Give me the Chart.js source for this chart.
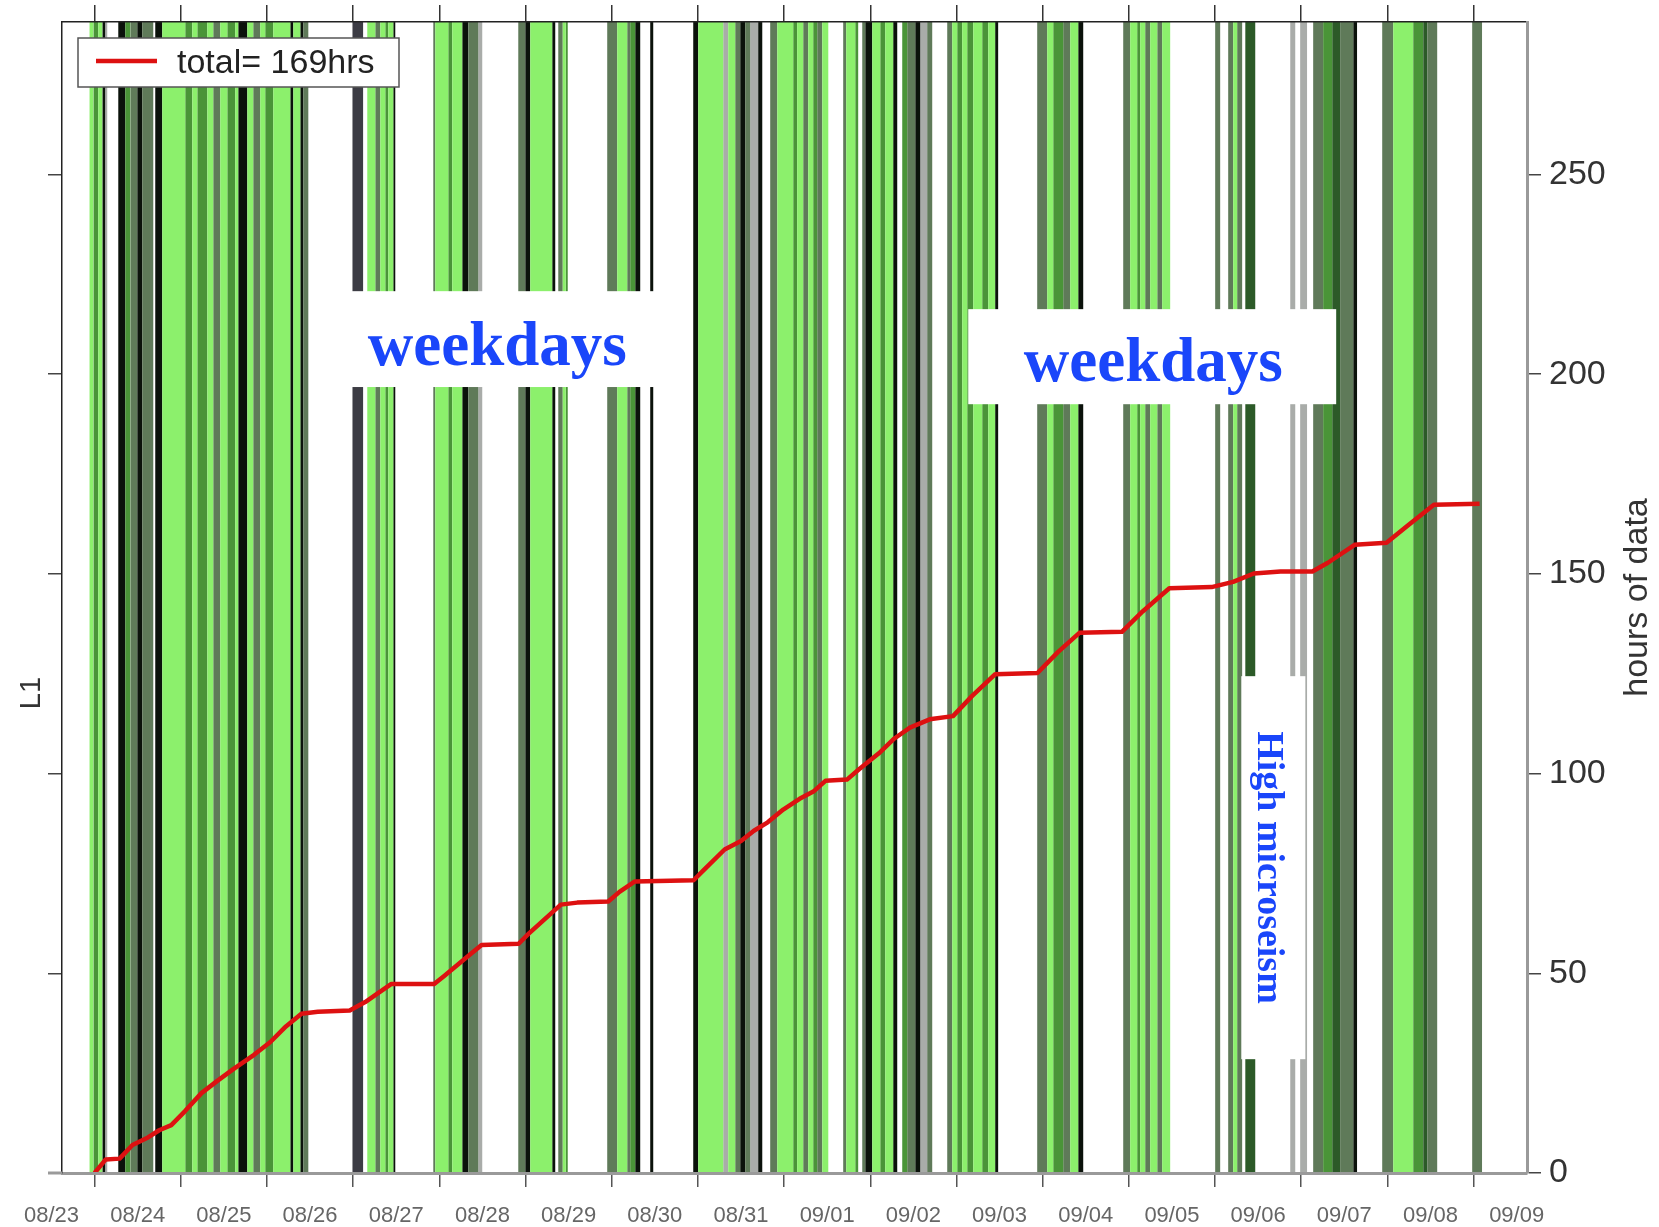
<!DOCTYPE html>
<html>
<head>
<meta charset="utf-8">
<script src="https://cdn.jsdelivr.net/npm/chart.js@4.4.1/dist/chart.umd.min.js"></script>
<style>
  html, body { margin: 0; padding: 0; background: #fff; }
  canvas { display: block; }
</style>
</head>
<body>
<canvas id="chart" width="1659" height="1227"></canvas>
<script>
// Tick labels (one per day, centred on the day)
const dateLabels = ['08/23', '08/24', '08/25', '08/26', '08/27', '08/28', '08/29', '08/30', '08/31',
                    '09/01', '09/02', '09/03', '09/04', '09/05', '09/06', '09/07', '09/08', '09/09'];
const dayTicks = [0, 1, 2, 3, 4, 5, 6, 7, 8, 9, 10, 11, 12, 13, 14, 15, 16];
const hourTicks = [0, 50, 100, 150, 200, 250];

// Cumulative hours of data (x in days since first tick)
const totalDays = [0, 0.13, 0.29, 0.44, 0.62, 0.75, 0.89, 1.05, 1.24, 1.42, 1.61, 1.85, 2.04, 2.22, 2.40, 2.59, 2.96,
                   3.14, 3.26, 3.44, 3.94, 4.06, 4.31, 4.49, 4.92, 5.04, 5.23, 5.41, 5.60, 5.96, 6.09, 6.27, 6.95,
                   7.07, 7.31, 7.50, 7.65, 7.81, 7.99, 8.18, 8.34, 8.48, 8.73, 8.87, 9.10, 9.28, 9.46, 9.69, 9.96,
                   10.18, 10.45, 10.94, 11.18, 11.43, 11.92, 12.16, 12.47, 12.96, 13.21, 13.45, 13.76, 14.13,
                   14.31, 14.62, 14.99, 15.23, 15.54, 16.07];
const totalHours = [0, 3.4, 3.6, 7, 8.9, 10.7, 12, 15.5, 20, 23, 26, 29.6, 32.8, 36.7, 39.9, 40.4, 40.7,
                    42.8, 44.6, 47.3, 47.3, 49.4, 53.9, 57.1, 57.4, 60, 63.7, 67.2, 67.7, 68, 70.4, 73, 73.3,
                    75.9, 81, 83.1, 85.7, 87.8, 91, 93.7, 95.5, 98.2, 98.5, 101.1, 105.1, 108.8, 111.5, 113.6, 114.4,
                    119.4, 124.9, 125.2, 130.5, 135.3, 135.5, 140.6, 146.4, 146.7, 148, 150.1, 150.6, 150.6,
                    152.8, 157.3, 157.8, 162, 167.3, 167.6];

// Data segments, [start, end] in days, one list per shade
const lightGreenSpans = [[-0.061, -0.015], [0.043, 0.089], [0.785, 1.052], [1.134, 1.192], [1.308, 1.377],
  [1.458, 1.540], [1.632, 1.667], [1.772, 1.841], [1.922, 1.980], [2.073, 2.271], [2.306, 2.387],
  [3.164, 3.257], [3.315, 3.373], [3.408, 3.466], [3.953, 4.104], [4.150, 4.266], [5.055, 5.310],
  [5.432, 5.467], [6.064, 6.180], [7.004, 7.294], [7.352, 7.433], [7.921, 8.106], [8.152, 8.222],
  [8.280, 8.338], [8.443, 8.513], [8.721, 8.826], [9.023, 9.116], [9.174, 9.266], [9.951, 10.009],
  [10.067, 10.125], [10.195, 10.299], [10.369, 10.449], [11.053, 11.123], [11.320, 11.413],
  [12.016, 12.097], [12.132, 12.190], [12.248, 12.330], [12.387, 12.480], [13.211, 13.257], [15.068, 15.300]];
const greenSpans = [[-0.015, 0.043], [0.356, 0.414], [1.052, 1.134], [1.192, 1.308], [1.540, 1.632],
  [1.980, 2.073], [3.373, 3.408], [4.104, 4.150], [5.467, 5.490], [6.215, 6.273], [8.106, 8.152],
  [8.338, 8.385], [8.826, 8.860], [9.116, 9.174], [9.371, 9.429], [10.009, 10.067], [10.125, 10.195],
  [10.299, 10.369], [11.123, 11.239], [12.097, 12.132], [14.255, 14.360], [15.300, 15.416]];
const darkGreenSpans = [[13.350, 13.467], [14.360, 14.453], [15.416, 15.462]];
const grayGreenSpans = [[0.414, 0.495], [0.553, 0.681], [1.377, 1.458], [1.841, 1.922], [2.422, 2.480],
  [3.257, 3.315], [3.930, 3.953], [4.336, 4.452], [4.916, 4.997], [5.380, 5.432], [5.948, 6.064],
  [6.180, 6.215], [7.433, 7.491], [7.549, 7.607], [7.839, 7.921], [8.222, 8.280], [8.385, 8.443],
  [8.686, 8.721], [8.907, 8.942], [9.429, 9.522], [9.661, 9.719], [9.893, 9.951], [10.937, 11.053],
  [11.239, 11.320], [11.935, 12.016], [12.190, 12.248], [12.330, 12.387], [13.002, 13.060],
  [13.153, 13.211], [13.257, 13.315], [14.139, 14.255], [14.453, 14.604], [14.940, 15.068],
  [15.462, 15.578], [15.984, 16.100]];
const blackSpans = [[0.089, 0.124], [0.275, 0.356], [0.495, 0.553], [0.704, 0.785], [1.667, 1.772],
  [2.271, 2.306], [2.387, 2.422], [3.466, 3.489], [4.266, 4.336], [4.997, 5.055], [5.310, 5.345],
  [6.273, 6.331], [6.447, 6.482], [6.946, 7.004], [7.491, 7.549], [7.700, 7.747], [8.942, 9.023],
  [9.266, 9.313], [9.522, 9.580], [10.449, 10.484], [11.413, 11.471], [14.604, 14.650]];
const graySpans = [[0.124, 0.147], [4.452, 4.498], [7.294, 7.352], [7.607, 7.700], [9.580, 9.661],
  [13.873, 13.931], [13.988, 14.070]];
const darkGraySpans = [[2.990, 3.118]];

const X_MIN = -0.378, X_MAX = 16.62, Y_MAX = 288.2;
const SANS = "'Liberation Sans', Arial, sans-serif";
const SERIF = "'Liberation Serif', 'Times New Roman', serif";
const BLUE = '#1a46fa';

function spansToPoints(spans) {
    const pts = [];
    spans.forEach(([a, b]) => {
        pts.push({ x: a, y: 0 }, { x: a, y: 1 }, { x: b, y: 1 }, { x: b, y: 0 });
    });
    return pts;
}

function stripeSet(spans, color) {
    return {
        type: 'line',
        data: spansToPoints(spans),
        xAxisID: 'x',
        yAxisID: 'yS',
        backgroundColor: color,
        borderColor: 'rgba(0,0,0,0)',
        borderWidth: 0,
        pointRadius: 0,
        fill: 'origin',
        tension: 0,
        order: 2
    };
}

const setTicks = list => axis => { axis.ticks = list.map(v => ({ value: v })); };
// fixed axis box sizes, no extra room for overhanging labels
const fixSize = (w, h) => axis => {
    if (w !== null) axis.width = w;
    if (h !== null) axis.height = h;
    axis.paddingTop = axis.paddingBottom = axis.paddingLeft = axis.paddingRight = 0;
};

// white boxes with blue notes, placed in data units
const notes = [
    { box: [2.584, 6.668, 196.8, 220.8], text: 'weekdays', at: [4.672, 202.3], size: 63, rotate: false },
    { box: [10.137, 14.406, 192.5, 216.3], text: 'weekdays', at: [12.284, 198.3], size: 63, rotate: false },
    { box: [13.305, 14.048, 28.5, 124.4], text: 'High microseism', at: [13.502, 76.5], size: 38, rotate: true }
];

const decorPlugin = {
    id: 'decor',
    afterDatasetsDraw(chart) {
        const { ctx, scales: { x, y } } = chart;
        ctx.save();
        notes.forEach(n => {
            const x0 = x.getPixelForValue(n.box[0]), x1 = x.getPixelForValue(n.box[1]);
            const y0 = y.getPixelForValue(n.box[3]), y1 = y.getPixelForValue(n.box[2]);
            ctx.fillStyle = '#fff';
            ctx.fillRect(x0, y0, x1 - x0, y1 - y0);
            ctx.save();
            ctx.translate(x.getPixelForValue(n.at[0]), y.getPixelForValue(n.at[1]));
            if (n.rotate) ctx.rotate(Math.PI / 2);
            ctx.fillStyle = BLUE;
            ctx.font = `bold ${n.size}px ${SERIF}`;
            ctx.textAlign = 'center';
            ctx.textBaseline = 'alphabetic';
            ctx.fillText(n.text, 0, 0);
            ctx.restore();
        });

        // legend box
        const area = chart.chartArea;
        const ds = chart.data.datasets.find(d => d.label);
        const lx = area.left + 16, ly = area.top + 16;
        ctx.fillStyle = '#fff';
        ctx.fillRect(lx, ly, 321, 49);
        ctx.strokeStyle = '#555';
        ctx.lineWidth = 1.5;
        ctx.strokeRect(lx, ly, 321, 49);
        ctx.strokeStyle = ds.borderColor;
        ctx.lineWidth = 4.5;
        ctx.beginPath();
        ctx.moveTo(lx + 18, ly + 23);
        ctx.lineTo(lx + 79, ly + 23);
        ctx.stroke();
        ctx.fillStyle = '#222';
        ctx.font = `34px ${SANS}`;
        ctx.textAlign = 'left';
        ctx.textBaseline = 'alphabetic';
        ctx.fillText(ds.label, lx + 99, ly + 35);
        ctx.restore();
    },
    afterDraw(chart) {
        const { ctx, chartArea: area } = chart;
        // grey x-axis line runs a little past the left frame
        ctx.save();
        ctx.strokeStyle = '#9a9a9a';
        ctx.lineWidth = 3;
        ctx.beginPath();
        ctx.moveTo(area.left - 14, area.bottom);
        ctx.lineTo(area.left, area.bottom);
        ctx.stroke();

        ctx.fillStyle = '#333';
        ctx.textAlign = 'center';
        ctx.textBaseline = 'middle';
        ctx.font = `34px ${SANS}`;
        ctx.translate(area.right + 111, (area.top + area.bottom) / 2);
        ctx.rotate(-Math.PI / 2);
        ctx.fillText('hours of data', 0, 0);
        ctx.restore();

        ctx.save();
        ctx.fillStyle = '#333';
        ctx.textAlign = 'center';
        ctx.textBaseline = 'middle';
        ctx.font = `29px ${SANS}`;
        ctx.translate(32, 693);
        ctx.rotate(-Math.PI / 2);
        ctx.fillText('L1', 0, 0);
        ctx.restore();
    }
};

new Chart(document.getElementById('chart'), {
    type: 'line',
    data: {
        datasets: [
            {
                type: 'line',
                label: 'total= 169hrs',
                data: totalDays.map((d, i) => ({ x: d, y: totalHours[i] })),
                xAxisID: 'x',
                yAxisID: 'y',
                borderColor: '#dd1111',
                borderWidth: 4.5,
                borderJoinStyle: 'round',
                pointRadius: 0,
                fill: false,
                tension: 0,
                order: 0
            },
            stripeSet(lightGreenSpans, '#8cf06c'),
            stripeSet(greenSpans, '#4a9438'),
            stripeSet(darkGreenSpans, '#2c5a28'),
            stripeSet(grayGreenSpans, '#5f7a59'),
            stripeSet(blackSpans, '#0b120b'),
            stripeSet(graySpans, '#a9aca9'),
            stripeSet(darkGraySpans, '#3c3c44')
        ]
    },
    options: {
        responsive: false,
        animation: false,
        layout: { padding: 0 },
        plugins: {
            legend: { display: false },
            tooltip: { enabled: false }
        },
        scales: {
            x: {
                type: 'linear', position: 'bottom', min: X_MIN, max: X_MAX, weight: 1,
                afterBuildTicks: setTicks(dateLabels.map((_, i) => i - 0.5)),
                afterFit: fixSize(null, 54),
                grid: { display: false, drawTicks: false },
                border: { display: false },
                ticks: {
                    autoSkip: false, maxRotation: 0, minRotation: 0, padding: 30,
                    color: '#666', font: { family: SANS, size: 22 },
                    callback: (v, i) => dateLabels[i]
                }
            },
            xTicks: {
                type: 'linear', position: 'bottom', min: X_MIN, max: X_MAX, weight: 0,
                afterBuildTicks: setTicks(dayTicks),
                afterFit: fixSize(null, 0),
                grid: { drawOnChartArea: false, tickLength: 14, tickColor: '#555', lineWidth: 1.5 },
                border: { color: '#9a9a9a', width: 3, z: 1 },
                ticks: { display: false }
            },
            xTop: {
                type: 'linear', position: 'top', min: X_MIN, max: X_MAX,
                afterBuildTicks: setTicks(dayTicks),
                afterFit: fixSize(null, 22),
                grid: { drawOnChartArea: false, tickLength: 17, tickColor: '#333', lineWidth: 1.5 },
                border: { color: '#222', width: 1.5, z: 1 },
                ticks: { display: false }
            },
            y: {
                type: 'linear', position: 'right', min: 0, max: Y_MAX,
                afterBuildTicks: setTicks(hourTicks),
                afterFit: fixSize(132, null),
                grid: { drawOnChartArea: false, tickLength: 14, tickColor: '#444', lineWidth: 1.5 },
                border: { color: '#9a9a9a', width: 3, z: 1 },
                ticks: { padding: 8, color: '#333', font: { family: SANS, size: 34 } }
            },
            yL: {
                type: 'linear', position: 'left', min: 0, max: Y_MAX,
                afterBuildTicks: setTicks(hourTicks.slice(1)),
                afterFit: fixSize(62, null),
                grid: { drawOnChartArea: false, tickLength: 14, tickColor: '#444', lineWidth: 1.5 },
                border: { color: '#222', width: 1.5, z: 1 },
                ticks: { display: false }
            },
            yS: { display: false, min: 0, max: 1 }
        }
    },
    plugins: [decorPlugin]
});
</script>
</body>
</html>
